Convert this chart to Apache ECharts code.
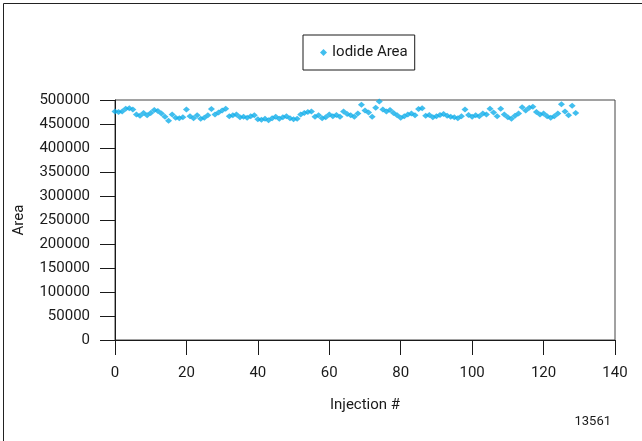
<!DOCTYPE html>
<html>
<head>
<meta charset="utf-8">
<script src="https://cdn.jsdelivr.net/npm/echarts@6/dist/echarts.min.js"></script>
<style>
  html, body { margin: 0; padding: 0; background: #fff; }
  #chart { width: 642px; height: 441px; }
</style>
</head>
<body>
<div id="chart"></div>
<script>
// Injection numbers and the iodide peak area measured for each one
const injections = [];
for (let i = 0; i < 130; i++) injections.push(i);

const iodideArea = [
  476000, 475000, 476000, 482000, 483000, 480000, 470000, 467000, 473000, 468000,
  473000, 479000, 477000, 472000, 465000, 457000, 470000, 463000, 462000, 464000,
  480000, 466000, 462000, 468000, 461000, 463000, 468000, 481000, 470000, 474000,
  478000, 482000, 466000, 468000, 470000, 464000, 465000, 463000, 466000, 468000,
  460000, 459000, 461000, 458000, 462000, 465000, 461000, 464000, 466000, 462000,
  460000, 461000, 470000, 473000, 475000, 476000, 465000, 468000, 462000, 464000,
  470000, 466000, 469000, 465000, 476000, 471000, 468000, 465000, 472000, 490000,
  478000, 474000, 465000, 484000, 497000, 480000, 476000, 479000, 473000, 468000,
  463000, 466000, 470000, 472000, 468000, 481000, 483000, 467000, 469000, 464000,
  466000, 469000, 471000, 467000, 465000, 464000, 462000, 466000, 480000, 469000,
  465000, 468000, 466000, 472000, 470000, 482000, 474000, 466000, 482000, 470000,
  464000, 461000, 467000, 472000, 485000, 478000, 484000, 486000, 475000, 470000,
  472000, 466000, 463000, 466000, 472000, 491000, 476000, 468000, 488000, 473000
];

const xTicks = { min: 0, max: 140, step: 20 };
const yTicks = { min: 0, max: 500000, step: 50000 };

const points = injections.map((x, i) => [x, iodideArea[i]]);

const font = "Roboto, 'Liberation Sans', Arial, sans-serif";
const ink = '#1a1a1a';
const chart = echarts.init(document.getElementById('chart'));

chart.setOption({
  animation: false,
  backgroundColor: '#ffffff',
  textStyle: { fontFamily: font },
  grid: { left: 115, right: 27, top: 100, bottom: 101, containLabel: false,
          show: true, borderColor: '#444', borderWidth: 1 },
  legend: {
    data: ['Iodide Area'],
    left: 303, top: 35,
    orient: 'horizontal',
    borderColor: ink, borderWidth: 1,
    padding: [10, 7, 10, 17],
    itemWidth: 7, itemHeight: 7, itemGap: 6,
    icon: 'diamond',
    textStyle: { fontSize: 15, color: ink, fontFamily: font }
  },
  xAxis: {
    type: 'value',
    min: xTicks.min, max: xTicks.max, interval: xTicks.step,
    name: 'Injection #', nameLocation: 'middle', nameGap: 58,
    nameTextStyle: { fontSize: 15, color: ink, fontFamily: font },
    axisLine: { show: true, onZero: false, lineStyle: { color: ink, width: 1 } },
    axisTick: { show: true, length: 15, inside: false, lineStyle: { color: ink } },
    axisLabel: { fontSize: 15, color: ink, margin: 26, fontFamily: font },
    splitLine: { show: false }
  },
  yAxis: {
    type: 'value',
    min: yTicks.min, max: yTicks.max, interval: yTicks.step,
    name: 'Area', nameLocation: 'middle', nameGap: 88, nameRotate: 90,
    nameTextStyle: { fontSize: 15, color: ink, fontFamily: font },
    axisLine: { show: true, onZero: false, lineStyle: { color: ink, width: 1 } },
    axisTick: { show: true, length: 15, inside: false, lineStyle: { color: ink } },
    axisLabel: { fontSize: 15, color: ink, margin: 25, fontFamily: font,
                 formatter: (v) => String(v) },
    splitLine: { show: false }
  },
  series: [{
    name: 'Iodide Area',
    type: 'scatter',
    symbol: 'diamond',
    symbolSize: [7, 6],
    itemStyle: { color: '#12aeea' },
    data: points
  }],
  graphic: [
    { type: 'rect', left: 1, top: 1, silent: true,
      shape: { width: 639, height: 438 },
      style: { fill: 'none', stroke: '#222', lineWidth: 1 } },
    { type: 'text', right: 31, top: 415, silent: true,
      style: { text: '13561', fontSize: 13, fill: ink, fontFamily: font } }
  ]
});
</script>
</body>
</html>
